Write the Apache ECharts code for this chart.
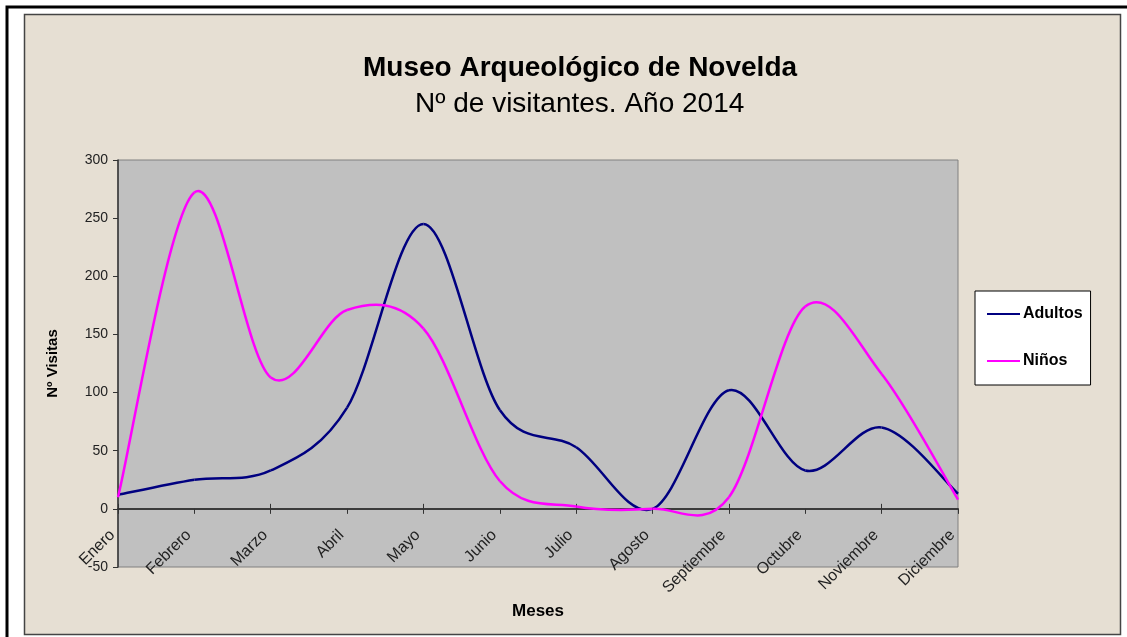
<!DOCTYPE html>
<html>
<head>
<meta charset="utf-8">
<title>Museo Arqueológico de Novelda</title>
<script src="https://cdn.jsdelivr.net/npm/echarts@6/dist/echarts.min.js"></script>
<style>
  html, body { margin: 0; padding: 0; background: #fff; }
  #chart { width: 1127px; height: 637px; }
</style>
</head>
<body>
<div id="chart"></div>
<script>
// datos
var meses = ['Enero', 'Febrero', 'Marzo', 'Abril', 'Mayo', 'Junio', 'Julio',
  'Agosto', 'Septiembre', 'Octubre', 'Noviembre', 'Diciembre'];
var adultos = [12, 25, 33, 87, 245, 85, 53, 0, 102, 33, 70, 13];
var ninos = [10, 272, 113, 171, 155, 24, 2, 0, 10, 174, 116, 8];
var ejeY = { min: -50, max: 300, interval: 50 };

var chart = echarts.init(document.getElementById('chart'));

// alto del área de trazado y desplazamiento del eje X hasta el valor 0
var altoGrid = 637 - 160 - 70;
var desplX = -altoGrid * (0 - ejeY.min) / (ejeY.max - ejeY.min);

// curva suavizada tipo Excel (Catmull-Rom) pasando por las escalas del eje
function curva(valores, color) {
  return function (params, api) {
    var i = params.dataIndex;
    var n = valores.length;
    if (i >= n - 1) return;
    var p0 = api.coord([Math.max(i - 1, 0), valores[Math.max(i - 1, 0)]]);
    var p1 = api.coord([i, valores[i]]);
    var p2 = api.coord([i + 1, valores[i + 1]]);
    var p3 = api.coord([Math.min(i + 2, n - 1), valores[Math.min(i + 2, n - 1)]]);
    return {
      type: 'bezierCurve',
      shape: {
        x1: p1[0], y1: p1[1],
        x2: p2[0], y2: p2[1],
        cpx1: p1[0] + (p2[0] - p0[0]) / 6,
        cpy1: p1[1] + (p2[1] - p0[1]) / 6,
        cpx2: p2[0] - (p3[0] - p1[0]) / 6,
        cpy2: p2[1] - (p3[1] - p1[1]) / 6
      },
      style: { stroke: color, lineWidth: 2.5, fill: null }
    };
  };
}

function datos(valores) {
  return valores.map(function (v, i) { return [i, v]; });
}

chart.setOption({
  backgroundColor: '#fff',
  animation: false,
  textStyle: { fontFamily: 'Liberation Sans, Arial, sans-serif' },
  graphic: [
    {
      type: 'rect', silent: true, z: -10,
      shape: { x: 7, y: 7, width: 1140, height: 660 },
      style: { fill: '#fff', stroke: '#000', lineWidth: 3 }
    },
    {
      type: 'rect', silent: true, z: -9,
      shape: { x: 24.5, y: 14.5, width: 1096, height: 620 },
      style: { fill: '#E6DFD3', stroke: '#444', lineWidth: 1.5 }
    }
  ],
  title: [
    {
      text: 'Museo Arqueológico de Novelda',
      left: 358, top: 49,
      textStyle: { fontSize: 28, fontWeight: 'bold', color: '#000' }
    },
    {
      text: 'Nº de visitantes. Año 2014',
      left: 410, top: 85,
      textStyle: { fontSize: 28, fontWeight: 'normal', color: '#000' }
    }
  ],
  legend: {
    orient: 'vertical',
    left: 975,
    top: 291,
    padding: [15, 8, 16, 12],
    itemGap: 31,
    itemWidth: 33,
    itemHeight: 2,
    icon: 'rect',
    backgroundColor: '#fff',
    borderColor: '#000',
    borderWidth: 1,
    textStyle: { fontSize: 16, fontWeight: 'bold', color: '#000', padding: [0, 0, 0, -2] },
    data: ['Adultos', 'Niños']
  },
  grid: {
    left: 118, right: 169, top: 160, bottom: 70,
    outerBoundsMode: 'none',
    containLabel: false,
    show: true,
    backgroundColor: '#C0C0C0',
    borderColor: '#808080',
    borderWidth: 1
  },
  xAxis: [
    {
      type: 'category',
      data: meses,
      boundaryGap: false,
      position: 'bottom',
      offset: desplX,
      axisLine: { onZero: false, lineStyle: { color: '#333', width: 1.5 } },
      axisTick: { show: true, length: 5, lineStyle: { color: '#333' } },
      axisLabel: { rotate: 45, margin: 18, padding: [0, 8, 0, 0], fontSize: 16, color: '#222', interval: 0 },
      name: 'Meses',
      nameLocation: 'middle',
      nameGap: 89,
      nameTextStyle: { fontSize: 17, fontWeight: 'bold', color: '#000' }
    },
    {
      type: 'category',
      data: meses,
      boundaryGap: false,
      position: 'bottom',
      offset: desplX,
      axisLine: { onZero: false, lineStyle: { color: '#333', width: 1.5 } },
      axisTick: { show: true, inside: true, length: 5, lineStyle: { color: '#333' } },
      axisLabel: { show: false }
    }
  ],
  yAxis: {
    type: 'value',
    min: ejeY.min,
    max: ejeY.max,
    interval: ejeY.interval,
    axisLine: { show: true, onZero: false, lineStyle: { color: '#333', width: 1.5 } },
    axisTick: { show: true, length: 5, lineStyle: { color: '#333' } },
    axisLabel: { fontSize: 14, color: '#222', margin: 10 },
    splitLine: { show: false },
    name: 'Nº Visitas',
    nameLocation: 'middle',
    nameGap: 58,
    nameTextStyle: { fontSize: 15, fontWeight: 'bold', color: '#000' }
  },
  series: [
    {
      name: 'Adultos',
      type: 'custom',
      data: datos(adultos),
      encode: { x: 0, y: 1 },
      renderItem: curva(adultos, '#000080'),
      itemStyle: { color: '#000080' }
    },
    {
      name: 'Niños',
      type: 'custom',
      data: datos(ninos),
      encode: { x: 0, y: 1 },
      renderItem: curva(ninos, '#FF00FF'),
      itemStyle: { color: '#FF00FF' }
    }
  ]
});
</script>
</body>
</html>
